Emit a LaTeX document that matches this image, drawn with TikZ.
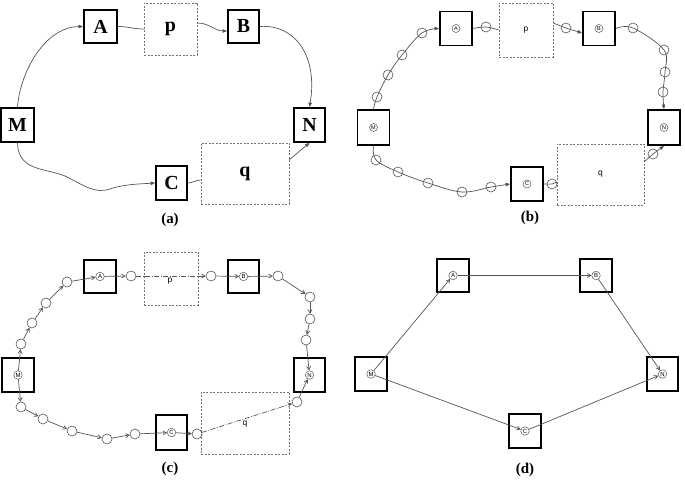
\documentclass[tikz,border=0pt]{standalone}
\usepackage{fontspec}
\setmainfont{Liberation Serif}
\setsansfont{Liberation Sans}
\usetikzlibrary{arrows.meta}
\definecolor{ln}{gray}{0.33}
\definecolor{dsh}{gray}{0.45}
\begin{document}
\begin{tikzpicture}[x=1bp,y=1bp,
  box/.style={draw=black, line width=1.8bp, minimum width=32bp, minimum height=34bp, inner sep=0pt},
  bigbox/.style={box, font=\fontsize{20}{20}\selectfont\bfseries},
  dbox/.style={draw=dsh, dash pattern=on 2bp off 1.5bp, line width=0.7bp, inner sep=0pt},
  conn/.style={draw=ln, line width=0.7bp},
  fa/.style={conn, -{Triangle[length=4.5bp,width=3.5bp]}},
  oa/.style={conn, -{Straight Barb[length=3.5bp,width=4bp]}},
  dd/.style={dash pattern=on 5bp off 1.5bp on 1bp off 1.5bp},
  ring/.style={circle, draw=ln, line width=0.6bp, minimum size=10bp, inner sep=0pt},
  lblb/.style={circle, draw=ln, line width=0.5bp, minimum size=8bp, inner sep=0pt, font=\sffamily\fontsize{5.5}{5.5}\selectfont},
  lblc/.style={circle, draw=ln, line width=0.5bp, minimum size=8.5bp, inner sep=0pt, font=\sffamily\fontsize{6}{6}\selectfont},
  subcap/.style={font=\fontsize{15}{15}\selectfont\bfseries},
  small/.style={font=\sffamily\fontsize{8.5}{8.5}\selectfont},
  ]
\useasboundingbox (0,0) rectangle (685,486);

% ---------------- (a) ----------------
\node[bigbox, minimum width=33bp, minimum height=33bp] (aA) at (100.5,459.5) {A};
\node[dbox, minimum width=53bp, minimum height=52bp, font=\fontsize{20}{20}\selectfont\bfseries] (ap) at (170.5,457) {p};
\node[bigbox, minimum width=31bp, minimum height=33bp] (aB) at (243.5,459.5) {B};
\node[bigbox, minimum width=33bp] (aM) at (17.5,361) {M};
\node[bigbox, minimum width=31bp] (aN) at (309.5,361) {N};
\node[bigbox, minimum width=31bp] (aC) at (171.5,303) {C};
\node[dbox, minimum width=88bp, minimum height=61bp, font=\fontsize{20}{20}\selectfont\bfseries] (aq) at (245,312.5) {q};
\node[subcap] (la) at (170,266) {(a)};

\draw[fa] (aM.north) .. controls (20,414) and (45,459) .. (aA.west);
\draw[conn] (aA.east) to[out=0,in=180] (ap.west);
\draw[fa] ([yshift=6bp]ap.east) to[out=0,in=180] ([yshift=-4.5bp]aB.west);
\draw[fa] (aB.east) .. controls (295,462) and (318,430) .. (aN.north);
\draw[fa] (aM.south) .. controls (18,315) and (45,318) .. (65,310) .. controls (85,300) and (95,292) .. (110,297) .. controls (125,302) and (140,302) .. (aC.west);
\draw[conn] (aC.east) to[out=0,in=180] ([yshift=-6.5bp]aq.west);
\draw[fa] ([yshift=-17bp]aq.north east) -- (aN.south);

% ---------------- (b) ----------------
\node[box] (bA) at (456,457.5) {};
\node[dbox, minimum width=54bp, minimum height=54bp, small] (bp) at (526,456) {p};
\node[box] (bB) at (599,457.5) {};
\node[box, minimum height=35bp] (bM) at (373.5,358.5) {};
\node[box, minimum height=35bp] (bN) at (664,358.5) {};
\node[box] (bC) at (527,302) {};
\node[dbox, minimum width=87bp, minimum height=61bp, small] (bq) at (600.5,311.5) {q};
\node[lblb] (bAl) at (bA) {A};
\node[lblb] (bBl) at (bB) {B};
\node[lblb] (bMl) at (bM) {M};
\node[lblb] (bNl) at (bN) {N};
\node[lblb] (bCl) at (bC) {C};
\node[subcap] (lb) at (530,268) {(b)};

\node[ring] (b1) at (377,389) {};
\node[ring] (b2) at (388,411) {};
\node[ring] (b3) at (402,431) {};
\node[ring] (b4) at (422,453) {};
\node[ring] (b5) at (486,459) {};
\node[ring] (b6) at (566,458) {};
\node[ring] (b7) at (633,458) {};
\node[ring] (b8) at (664,436) {};
\node[ring] (b9) at (665,414) {};
\node[ring] (b10) at (663,394) {};
\node[ring] (b11) at (376,326) {};
\node[ring] (b12) at (398,314) {};
\node[ring] (b13) at (428,303) {};
\node[ring] (b14) at (462,294) {};
\node[ring] (b15) at (491,299) {};
\node[ring] (b16) at (552,302) {};
\node[ring] (b17) at (653,332) {};

\draw[fa] plot[smooth, tension=0.6] coordinates {(bM.north) (b1) (b2) (b3) (b4) (bA.west)};
\draw[conn] plot[smooth, tension=0.6] coordinates {(bA.east) (b5) (bp.west)};
\draw[fa] plot[smooth, tension=0.6] coordinates {([yshift=7bp]bp.east) (b6) ([yshift=-4.5bp]bB.west)};
\draw[fa] plot[smooth, tension=0.6] coordinates {(bB.east) (b7) (b8) (b9) (b10) (bN.north)};
\draw[fa] plot[smooth, tension=0.6] coordinates {(bM.south) (b11) (b12) (b13) (b14) (b15) (bC.west)};
\draw[conn] plot[smooth, tension=0.6] coordinates {(bC.east) (b16) ([yshift=-7.5bp]bq.west)};
\draw[fa] plot[smooth, tension=0.6] coordinates {([yshift=-18bp]bq.north east) (b17) (bN.south)};

% ---------------- (c) ----------------
\node[box, minimum height=33bp] (cAb) at (100,209.5) {};
\node[dbox, minimum width=54bp, minimum height=53bp] (cp) at (171,207.5) {};
\node[box, minimum width=31bp, minimum height=33bp] (cBb) at (243.5,209.5) {};
\node[box] (cMb) at (18,111) {};
\node[box, minimum width=31bp] (cNb) at (309.5,111) {};
\node[box, minimum width=31bp, minimum height=35bp] (cCb) at (171.5,53.5) {};
\node[dbox, minimum width=88bp, minimum height=62bp] (cq) at (245,63) {};
\node[lblc] (cA) at (cAb) {A};
\node[lblc] (cB) at (cBb) {B};
\node[lblc] (cM) at (cMb) {M};
\node[lblc] (cN) at (cNb) {N};
\node[lblc] (cC) at (cCb) {C};
\node[small] (cpl) at (170,205) {p};
\node[small] (cql) at (245,62) {q};
\node[subcap] (lc) at (170,17) {(c)};

\node[ring] (c1) at (21,142) {};
\node[ring] (c2) at (32,163) {};
\node[ring] (c3) at (46,183) {};
\node[ring] (c4) at (67,204) {};
\node[ring] (c5) at (131,210) {};
\node[ring] (c6) at (211,210) {};
\node[ring] (c7) at (278,210) {};
\node[ring] (c8) at (310,189) {};
\node[ring] (c9) at (310,167) {};
\node[ring] (c10) at (306,146) {};
\node[ring] (c11) at (21,79) {};
\node[ring] (c12) at (43,67) {};
\node[ring] (c13) at (72,55) {};
\node[ring] (c14) at (107,47) {};
\node[ring] (c15) at (135,52) {};
\node[ring] (c16) at (197,52) {};
\node[ring] (c17) at (297,84) {};

\draw[oa] (cM) -- (c1);
\draw[oa] (c1) -- (c2);
\draw[oa] (c2) -- (c3);
\draw[oa] (c3) -- (c4);
\draw[oa] (c4) -- (cA);
\draw[oa] (cA) -- (c5);
\draw[oa, dd] (c5) -- (c6);
\draw[oa] (c6) -- (cB);
\draw[oa] (cB) -- (c7);
\draw[oa] (c7) -- (c8);
\draw[oa] (c8) -- (c9);
\draw[oa] (c9) -- (c10);
\draw[oa] (c10) -- (cN);
\draw[oa] (cM) -- (c11);
\draw[oa] (c11) -- (c12);
\draw[oa] (c12) -- (c13);
\draw[oa] (c13) -- (c14);
\draw[oa] (c14) -- (c15);
\draw[oa] (c15) -- (cC);
\draw[oa] (cC) -- (c16);
\draw[oa, dd] (c16) -- (c17);
\draw[oa] (c17) -- (cN);

% ---------------- (d) ----------------
\node[box, minimum height=33bp] (dAb) at (453,210.5) {};
\node[box, minimum height=33bp] (dBb) at (596,210.5) {};
\node[box] (dMb) at (371,112) {};
\node[box, minimum width=31bp] (dNb) at (662.5,112) {};
\node[box] (dCb) at (525,55) {};
\node[lblc] (dA) at (dAb) {A};
\node[lblc] (dB) at (dBb) {B};
\node[lblc] (dM) at (dMb) {M};
\node[lblc] (dN) at (dNb) {N};
\node[lblc] (dC) at (dCb) {C};
\node[subcap] (ld) at (525,16) {(d)};

\draw[oa] (dM) -- (dA);
\draw[oa] (dA) -- (dB);
\draw[oa] (dB) -- (dN);
\draw[oa] (dM) -- (dC);
\draw[oa] (dC) -- (dN);
\end{tikzpicture}
\end{document}
